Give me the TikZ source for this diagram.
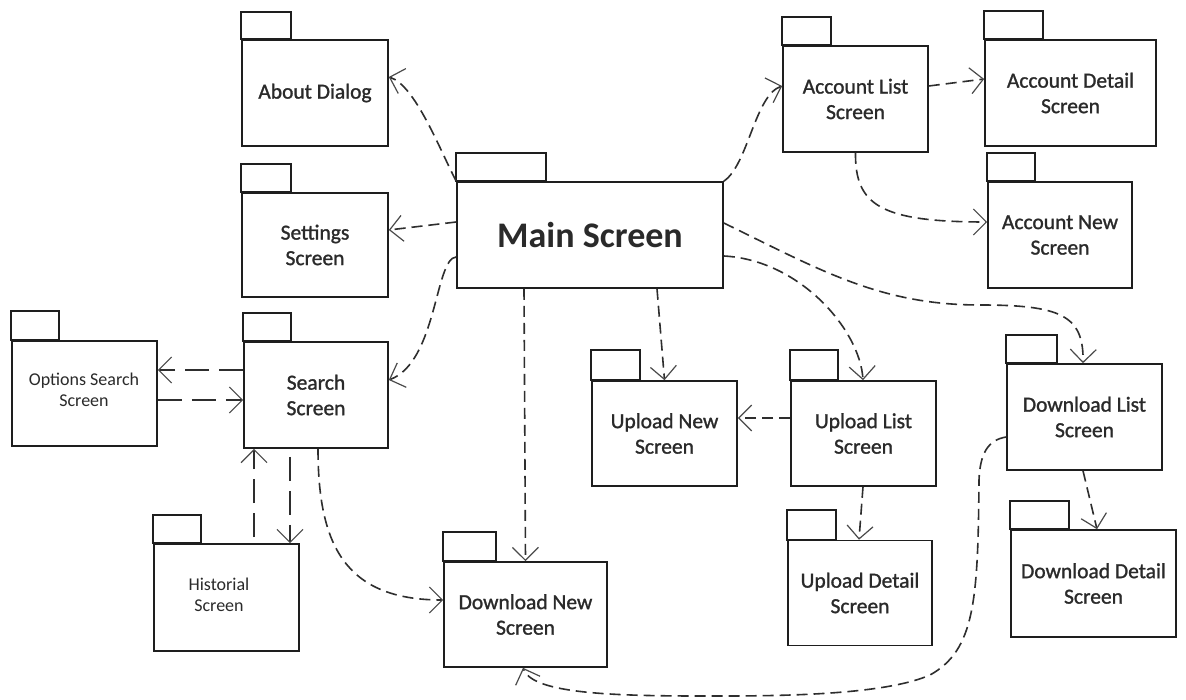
\documentclass[tikz,border=0pt]{standalone}
\usepackage{fontspec}
\setmainfont{Carlito}
\newfontfamily\labelfont[RawFeature={embolden=1.2}]{Carlito}
\usetikzlibrary{arrows.meta,calc}
\definecolor{boxc}{HTML}{1E1E1E}
\definecolor{txtc}{HTML}{2A2A2A}
\definecolor{linec}{HTML}{2E2E2E}
\definecolor{arrc}{HTML}{4A4A4A}
% draws the tab on top of a package box
\newcommand\pkgtab[3]{\draw[tabline] (#1.north west) rectangle ++(#2,-#3);}
\begin{document}
\begin{tikzpicture}[x=1pt,y=-1pt,
  pkg/.style={draw=boxc, line width=1.6pt, fill=white, inner sep=0pt, align=center,
    font=\labelfont\fontsize{21.5}{25.5}\selectfont, text=txtc},
  tabline/.style={draw=boxc, line width=1.6pt},
  mainpkg/.style={pkg, font=\fontsize{36}{40}\selectfont\bfseries},
  comic/.style={align=center, inner sep=0pt, font=\fontsize{18}{20.5}\selectfont, text=txtc},
  dep/.style={draw=linec, line width=1.6pt, dash pattern=on 11pt off 6pt,
    -{Straight Barb[length=13pt,width=26pt,line width=1.2pt,color=arrc]}},
  longdep/.style={dep, dash pattern=on 24pt off 10pt}]

\useasboundingbox[fill=white] (0,0) rectangle (1186,700);

% package boxes
\node[pkg, minimum width=146pt, minimum height=106pt] (about) at (315,93) {About Dialog};
\pkgtab{about}{50}{27}
\node[pkg, minimum width=146pt, minimum height=104pt] (settings) at (315,245) {Settings\\Screen};
\pkgtab{settings}{50}{28}
\node[mainpkg, minimum width=266pt, minimum height=106pt] (main) at (590,235) {Main Screen};
\pkgtab{main}{90}{28}
\node[pkg, minimum width=145pt, minimum height=106pt] (acclist) at (855.5,99) {Account List\\Screen};
\pkgtab{acclist}{49}{28}
\node[pkg, minimum width=171pt, minimum height=106pt] (accdetail) at (1070.5,93) {Account Detail\\Screen};
\pkgtab{accdetail}{59}{28}
\node[pkg, minimum width=144pt, minimum height=106pt] (accnew) at (1060,235) {Account New\\Screen};
\pkgtab{accnew}{48}{28}
\node[pkg, minimum width=144pt, minimum height=106pt] (search) at (316,395) {Search\\Screen};
\pkgtab{search}{48}{28}
\node[pkg, minimum width=145pt, minimum height=105pt] (options) at (84.5,393.5) {};
\pkgtab{options}{48}{29}
\node[comic] (optionslabel) at (84,390) {Options Search\\Screen};
\node[pkg, minimum width=145pt, minimum height=107pt] (historial) at (226.5,597.5) {};
\pkgtab{historial}{48}{28}
\node[comic] (historiallabel) at (219,595) {Historial\\Screen};
\node[pkg, minimum width=163pt, minimum height=105pt] (downloadnew) at (525.5,614.5) {Download New\\Screen};
\pkgtab{downloadnew}{53}{29}
\node[pkg, minimum width=145pt, minimum height=105pt] (uploadnew) at (664.5,433.5) {Upload New\\Screen};
\pkgtab{uploadnew}{49}{30}
\node[pkg, minimum width=145pt, minimum height=105pt] (uploadlist) at (863.5,433.5) {Upload List\\Screen};
\pkgtab{uploadlist}{48}{30}
\node[pkg, minimum width=144pt, minimum height=105pt] (uploaddetail) at (860,593) {Upload Detail\\Screen};
\pkgtab{uploaddetail}{49}{30}
\node[pkg, minimum width=155pt, minimum height=106pt] (downloadlist) at (1084.5,417) {Download List\\Screen};
\pkgtab{downloadlist}{51}{28}
\node[pkg, minimum width=165pt, minimum height=107pt] (downloaddetail) at (1093.5,583.5) {Download Detail\\Screen};
\pkgtab{downloaddetail}{59}{28}

% dependencies from the main screen
\draw[dep] (main.north west) .. controls (440,150) and (415,85) .. ($(about.east)+(0,-16)$);
\draw[dep] ($(main.west)+(0,-13)$) -- ($(settings.east)+(0,-15)$);
\draw[dep] ($(main.west)+(0,22)$) .. controls (435,258) and (437,362) .. ($(search.east)+(0,-15)$);
\draw[dep] (main.north east) .. controls (748,165) and (755,95) .. ($(acclist.west)+(0,-13)$);
\draw[dep] ($(main.south)+(67,0)$) -- (uploadnew.north);
\draw[dep] ($(main.south)+(-66,0)$) -- (downloadnew.north);
\draw[dep] ($(main.east)+(0,21)$) .. controls (800,260) and (860,330) .. ($(uploadlist.north)+(-0.5,0)$);
\draw[dep] ($(main.east)+(0,-12)$) .. controls (820,270) and (880,305) .. (980,305)
  .. controls (1060,305) and (1084,315) .. ($(downloadlist.north)+(-1.5,0)$);

% account screens
\draw[dep] ($(acclist.east)+(0,-13)$) -- ($(accdetail.west)+(0,-14)$);
\draw[dep] (acclist.south) .. controls (855,205) and (880,222) .. ($(accnew.west)+(0,-13)$);

% search screens
\draw[longdep] ($(search.west)+(0,-25)$) -- ($(options.east)+(0,-23.5)$);
\draw[longdep] ($(options.east)+(0,6.5)$) -- ($(search.west)+(0,5)$);
\draw[longdep] ($(historial.north)+(27.5,-6)$) -- ($(search.south)+(-62,0)$);
\draw[longdep] ($(search.south)+(-26,8)$) -- ($(historial.north)+(63.5,0)$);
\draw[dep] ($(search.south)+(2,0)$) .. controls (318,545) and (345,600) .. ($(downloadnew.west)+(0,-14.5)$);

% upload screens
\draw[dep] ($(uploadlist.west)+(0,-15.5)$) -- ($(uploadnew.east)+(0,-15.5)$);
\draw[dep] ($(uploadlist.south)+(-0.5,0)$) -- ($(uploaddetail.north)+(-1,0)$);

% download screens
\draw[dep] ($(downloadlist.south)+(-1.5,0)$) -- ($(downloaddetail.north)+(3.5,0)$);
\draw[dep] ($(downloadlist.west)+(0,20)$) .. controls (987,440) and (980,455) .. (979,480)
  .. controls (978,600) and (975,650) .. (930,675)
  .. controls (880,697) and (760,696) .. (700,696)
  .. controls (600,696) and (532,692) .. ($(downloadnew.south)+(-2.5,0)$);
\end{tikzpicture}
\end{document}
